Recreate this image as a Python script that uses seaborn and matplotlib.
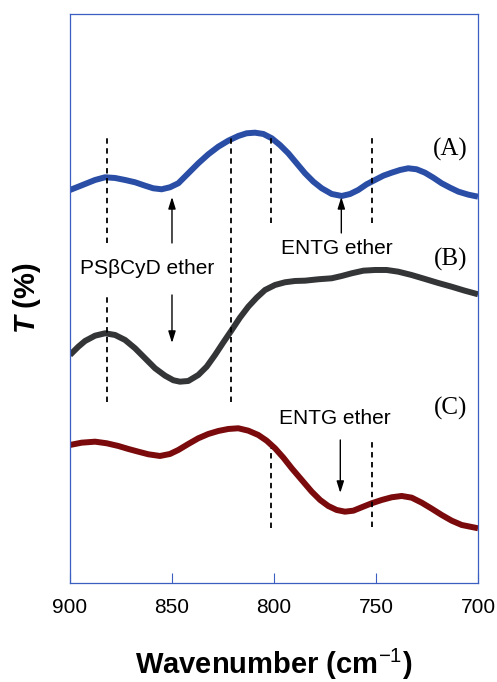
import pandas as pd
import matplotlib
matplotlib.use("Agg")
import matplotlib.pyplot as plt
import seaborn as sns

# spectra (arbitrary transmittance units, offset)
wn_a = [900, 895.9, 892.6, 887.7, 882.8, 877.9, 873.0, 868.1, 863.2, 859.2, 855.1,
        851.0, 846.9, 842.0, 837.1, 832.2, 827.3, 822.4, 817.5, 813.4, 809.3, 805.2,
        801.1, 797.1, 793.0, 788.9, 784.8, 780.7, 776.6, 771.7, 766.8, 762.7, 758.7,
        754.6, 750.5, 746.4, 742.3, 738.2, 734.2, 730.1, 726.0, 721.9, 717.8, 713.7,
        709.6, 704.7, 700]
t_a = [393, 396.3, 399, 403, 405.7, 405, 403, 400.7, 397.3, 394.7, 393.7,
       395.7, 399.7, 409.7, 419.7, 428.7, 436.3, 442.3, 447, 449.7, 450.3, 449,
       444.7, 438, 429.7, 419.7, 409.7, 401.3, 394.7, 389, 387, 389, 393,
       398.7, 403, 407.3, 410.3, 413, 414.7, 413.7, 410.3, 405.3, 399.7, 395.3,
       391.3, 388.3, 386.3]

wn_b = [900, 895.9, 892.6, 887.7, 882.8, 877.9, 873.0, 868.1, 863.2, 858.3, 853.4,
        849.3, 846.1, 842.0, 837.1, 833.0, 828.9, 824.8, 820.7, 816.7, 812.6, 808.5,
        804.4, 799.5, 794.6, 789.7, 784.8, 778.3, 771.7, 766.8, 761.9, 756.2, 750.5,
        744.8, 739.1, 732.6, 726.0, 719.5, 713.0, 706.5, 700]
t_b = [228, 236.3, 242, 247.3, 249.7, 248, 243, 234.7, 224.7, 214.7, 207.3,
       202.7, 201.3, 202, 208, 216.3, 228, 240.7, 253, 265.3, 276.3, 285.3,
       293, 298, 300.7, 302, 302.3, 303.7, 304.7, 307, 309.7, 312.3, 313,
       313, 311.3, 308, 304, 300, 296.3, 292.3, 288.7]

wn_c = [900, 894.3, 887.7, 882.0, 876.3, 871.4, 866.5, 861.6, 855.9, 851.0, 846.9,
        842.0, 837.1, 832.2, 827.3, 822.4, 817.5, 812.6, 807.7, 803.6, 799.5, 795.4,
        791.3, 786.4, 781.5, 777.4, 773.4, 769.3, 765.2, 761.1, 757.0, 752.1, 747.2,
        742.3, 737.4, 732.5, 727.6, 722.7, 717.8, 712.9, 708.0, 700]
t_c = [138, 140.3, 141.3, 139.7, 137, 134, 131.3, 128.7, 127, 129, 133,
       139, 144.7, 149, 152, 154, 154.7, 152.3, 148, 142.3, 134.7, 125.3,
       114.7, 103, 91.3, 83, 77, 73, 71.3, 72.3, 75.7, 79.7, 83,
       85.7, 87, 85.3, 80.3, 74.3, 68, 62.3, 58, 54.7]

curve_labels = ["(A)", "(B)", "(C)"]
curve_colors = ["#2a4ea6", "#333537", "#7a0a0c"]

sns.set_style("ticks")
plt.rcParams["font.family"] = ["Liberation Sans", "DejaVu Sans"]
plt.rcParams["text.color"] = "black"
plt.rcParams["axes.labelcolor"] = "black"
plt.rcParams["mathtext.fontset"] = "custom"
plt.rcParams["mathtext.rm"] = "Liberation Sans"
plt.rcParams["mathtext.it"] = "Liberation Sans:italic:bold"
plt.rcParams["mathtext.bf"] = "Liberation Sans:bold"

spine_col = "#3a5fc0"

fig = plt.figure(figsize=(4.97, 6.82), dpi=100)
ax = fig.add_axes([0.1408, 0.1452, 0.8210, 0.8343])

for wn, t, col in zip([wn_a, wn_b, wn_c], [t_a, t_b, t_c], curve_colors):
    df = pd.DataFrame({"wn": wn, "t": t})
    sns.lineplot(data=df, x="wn", y="t", color=col, lw=4.3, ax=ax,
                 solid_joinstyle="round", solid_capstyle="butt", sort=False)

# dashed reference lines
dash = dict(colors="k", linestyles=(0, (3, 2.5)), lw=1.3)
ax.vlines([882, 882], [340, 181], [446, 290], **dash)
ax.vlines(821, 181, 446, **dash)
ax.vlines([801.5, 752], 360, 445, **dash)
ax.vlines([801.5, 752], [55, 56], [135, 143], **dash)

# arrows
arr = dict(arrowstyle="-|>,head_length=0.7,head_width=0.22", color="k", lw=1.0,
           shrinkA=0, shrinkB=0)
ax.annotate("", xy=(850, 386), xytext=(850, 340), arrowprops=arr)
ax.annotate("", xy=(850, 240), xytext=(850, 288), arrowprops=arr)
ax.annotate("", xy=(767, 386), xytext=(767, 350), arrowprops=arr)
ax.annotate("", xy=(767.5, 90), xytext=(767.5, 143), arrowprops=arr)

ax.text(862, 314.7, "PS\u03b2CyD ether", fontsize=15, ha="center", va="center")
ax.text(769, 334.7, "ENTG ether", fontsize=15, ha="center", va="center")
ax.text(770, 164.7, "ENTG ether", fontsize=15, ha="center", va="center")

for lab, yy in zip(curve_labels, [433.7, 323.7, 174.7]):
    ax.text(713.5, yy, lab, fontsize=18, ha="center", va="center",
            family="Liberation Serif")

ax.set_xlim(900, 700)
ax.set_ylim(0, 569)
ax.set_xticks([900, 850, 800, 750, 700])
ax.set_yticks([])
ax.tick_params(axis="x", direction="in", length=7, width=0.8, color=spine_col,
               labelcolor="black", labelsize=15, pad=11)
for s in ax.spines.values():
    s.set_visible(True)
    s.set_color(spine_col)
    s.set_linewidth(0.9)

ax.set_xlabel("Wavenumber (cm$^{-1}$)", fontsize=21, fontweight="bold")
ax.set_ylabel("$\\mathit{T}$ (%)", fontsize=21, fontweight="bold")
ax.xaxis.set_label_coords(0.5, -0.112)
ax.yaxis.set_label_coords(-0.066, 0.5)

fig.savefig("out.png", dpi=100)
